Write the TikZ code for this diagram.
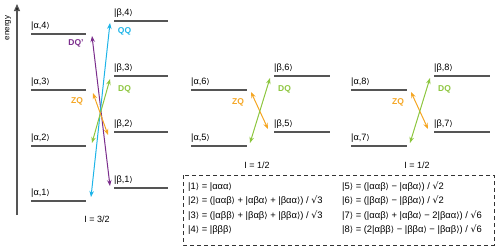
\documentclass[tikz,border=0pt]{standalone}
\usepackage{fontspec}
\setmainfont{Liberation Sans}
\newfontfamily\djv{DejaVu Sans}
\usetikzlibrary{arrows.meta}
\definecolor{cpurple}{RGB}{123,45,140}
\definecolor{ccyan}{RGB}{30,180,232}
\definecolor{cgreen}{RGB}{141,198,63}
\definecolor{corange}{RGB}{245,166,35}
\definecolor{clevel}{RGB}{85,85,85}
\newcommand{\kt}[1]{|#1{\djv\fontsize{7.8}{9}\selectfont ⟩}}
\newcommand{\ktb}[1]{|#1{\djv\fontsize{8.4}{9}\selectfont ⟩}}
\newcommand{\sqr}{{\djv √}}
\tikzset{
  level/.style={draw=clevel, line width=1.3pt},
  lvlabel/.style={anchor=base west, inner sep=0pt, font=\fontsize{9.2}{10}\selectfont},
  trans/.style={line width=1pt, {Stealth[length=6pt,width=4.5pt]}-{Stealth[length=6pt,width=4.5pt]}},
  tlabel/.style={inner sep=0pt, font=\bfseries\fontsize{8.5}{10}\selectfont},
  spinlabel/.style={inner sep=0pt, font=\fontsize{9}{10}\selectfont},
  boxtext/.style={anchor=base west, inner sep=0pt, font=\fontsize{9.4}{10}\selectfont},
}
\begin{document}
\begin{tikzpicture}[x=1pt,y=-1pt]
\useasboundingbox (0,0) rectangle (500,250);
% energy axis
\draw[draw=clevel, line width=1.3pt, -{Triangle[length=7pt,width=6pt,fill=black]}] (17,215) -- (17,4);
\node[rotate=90, inner sep=0pt, font=\fontsize{8}{10}\selectfont] (energy) at (8,28) {energy};

% ---------- I = 3/2 ----------
\draw[level] (31,34) -- (86,34);
\draw[level] (31,90) -- (86,90);
\draw[level] (31,146) -- (86,146);
\draw[level] (31,201) -- (86,201);
\draw[level] (114,21) -- (168,21);
\draw[level] (114,76) -- (168,76);
\draw[level] (114,132) -- (168,132);
\draw[level] (114,188) -- (168,188);
\node[lvlabel] (la4) at (31,28) {\kt{α,4}};
\node[lvlabel] (la3) at (31,84) {\kt{α,3}};
\node[lvlabel] (la2) at (31,140) {\kt{α,2}};
\node[lvlabel] (la1) at (31,195) {\kt{α,1}};
\node[lvlabel] (lb4) at (114,15) {\kt{β,4}};
\node[lvlabel] (lb3) at (114,70) {\kt{β,3}};
\node[lvlabel] (lb2) at (114,126) {\kt{β,2}};
\node[lvlabel] (lb1) at (114,182) {\kt{β,1}};

\coordinate (dqpA) at (92,36);  \coordinate (dqpB) at (110,186);
\coordinate (qqA) at (91,197);  \coordinate (qqB) at (110,23);
\coordinate (dqA) at (92,143);  \coordinate (dqB) at (110,79);
\coordinate (zqA) at (93,93);   \coordinate (zqB) at (108,135);
\draw[trans, cpurple] (dqpA) -- (dqpB);
\draw[trans, ccyan] (qqA) -- (qqB);
\draw[trans, cgreen] (dqA) -- (dqB);
\draw[trans, corange] (zqA) -- (zqB);
\node[tlabel, text=cpurple] (tdqp) at (76,43) {DQ'};
\node[tlabel, text=ccyan] (tqq) at (124.5,31.5) {QQ};
\node[tlabel, text=cgreen] (tdq) at (124.5,89) {DQ};
\node[tlabel, text=corange] (tzq) at (77,101) {ZQ};
\node[spinlabel] (s1) at (97,219) {I = 3/2};

% ---------- I = 1/2 (5,6) ----------
\draw[level] (191,90) -- (247,90);
\draw[level] (191,146) -- (247,146);
\draw[level] (274,76) -- (330,76);
\draw[level] (274,132) -- (330,132);
\node[lvlabel] (la6) at (191,84) {\kt{α,6}};
\node[lvlabel] (la5) at (191,140) {\kt{α,5}};
\node[lvlabel] (lb6) at (274,70) {\kt{β,6}};
\node[lvlabel] (lb5) at (274,126) {\kt{β,5}};
\coordinate (mzA) at (251,92);  \coordinate (mzB) at (268,129);
\coordinate (mdA) at (250,143); \coordinate (mdB) at (270,78);
\draw[trans, corange] (mzA) -- (mzB);
\draw[trans, cgreen] (mdA) -- (mdB);
\node[tlabel, text=corange] (mzq) at (238,102) {ZQ};
\node[tlabel, text=cgreen] (mdq) at (284.5,89) {DQ};
\node[spinlabel] (s2) at (257,165) {I = 1/2};

% ---------- I = 1/2 (7,8) ----------
\draw[level] (351,90) -- (407,90);
\draw[level] (351,146) -- (407,146);
\draw[level] (434,76) -- (490,76);
\draw[level] (434,132) -- (490,132);
\node[lvlabel] (la8) at (351,84) {\kt{α,8}};
\node[lvlabel] (la7) at (351,140) {\kt{α,7}};
\node[lvlabel] (lb8) at (434,70) {\kt{β,8}};
\node[lvlabel] (lb7) at (434,126) {\kt{β,7}};
\coordinate (rzA) at (411,92);  \coordinate (rzB) at (428,129);
\coordinate (rdA) at (410,143); \coordinate (rdB) at (430,78);
\draw[trans, corange] (rzA) -- (rzB);
\draw[trans, cgreen] (rdA) -- (rdB);
\node[tlabel, text=corange] (rzq) at (398,102) {ZQ};
\node[tlabel, text=cgreen] (rdq) at (444.5,89) {DQ};
\node[spinlabel] (s3) at (417,165) {I = 1/2};

% ---------- legend box ----------
\draw[draw=black!80, line width=1pt, dash pattern=on 4pt off 3pt] (183,175) rectangle (494,245);
\node[boxtext] (e1) at (188,189) {\ktb{1} = \ktb{ααα}};
\node[boxtext] (e2) at (188,203.5) {\ktb{2} = (\ktb{ααβ} + \ktb{αβα} + \ktb{βαα}) / \sqr3};
\node[boxtext] (e3) at (188,218) {\ktb{3} = (\ktb{αββ} + \ktb{βαβ} + \ktb{ββα}) / \sqr3};
\node[boxtext] (e4) at (188,232.5) {\ktb{4} = \ktb{βββ}};
\node[boxtext] (e5) at (342,189) {\ktb{5} = (\ktb{ααβ} − \ktb{αβα}) / \sqr2};
\node[boxtext] (e6) at (342,203.5) {\ktb{6} = (\ktb{βαβ} − \ktb{ββα}) / \sqr2};
\node[boxtext] (e7) at (342,218) {\ktb{7} = (\ktb{ααβ} + \ktb{αβα} − 2\ktb{βαα}) / \sqr6};
\node[boxtext] (e8) at (342,232.5) {\ktb{8} = (2\ktb{αββ} − \ktb{ββα} − \ktb{βαβ}) / \sqr6};
\end{tikzpicture}
\end{document}
